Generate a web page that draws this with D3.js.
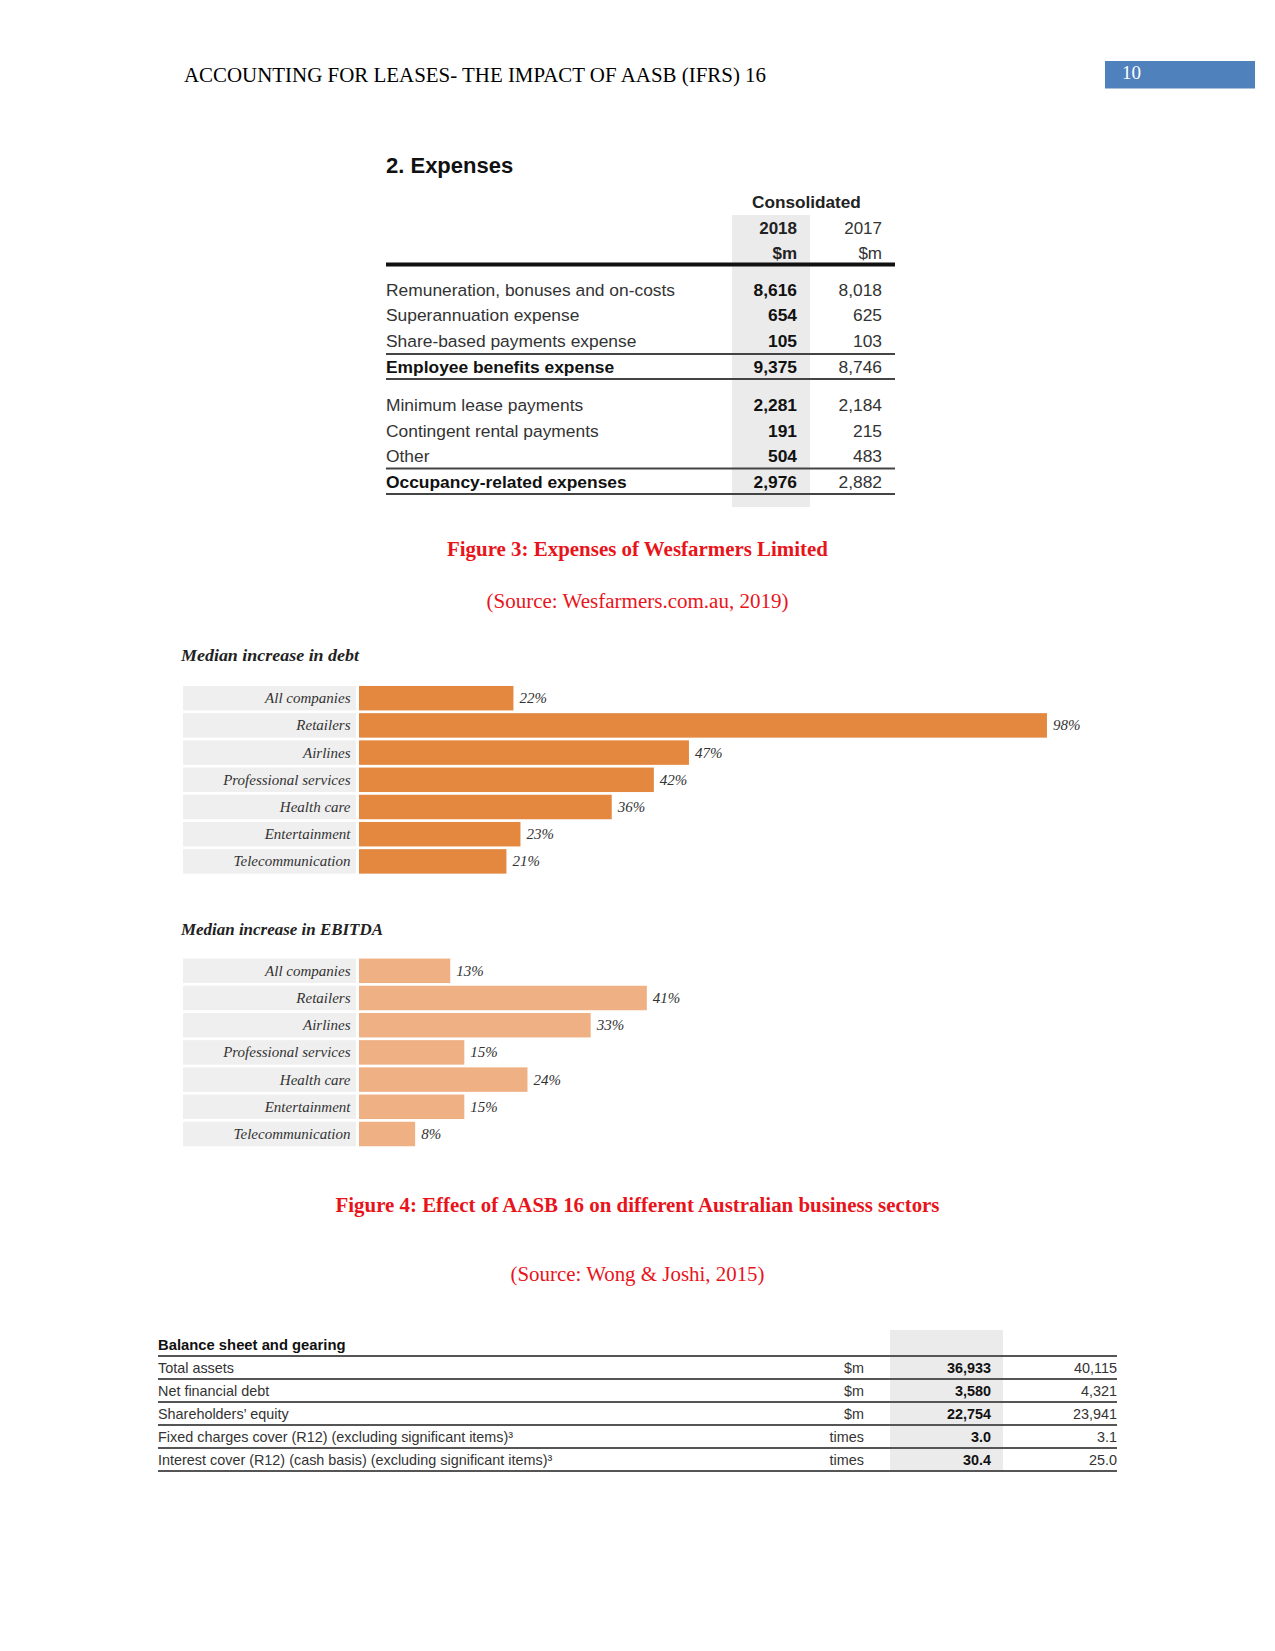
<!DOCTYPE html>
<html><head><meta charset="utf-8">
<script src="https://cdn.jsdelivr.net/npm/d3@7"></script>
<style>
html,body{margin:0;padding:0;background:#fff;}
svg{display:block;}
</style>
</head><body>
<script>
// ---------- DATA ----------
const headerTitle = "ACCOUNTING FOR LEASES- THE IMPACT OF AASB (IFRS) 16";
const pageNumber = "10";

const expensesTitle = "2. Expenses";
const expenseYears = ["2018", "2017"];
const employeeLabels = ["Remuneration, bonuses and on-costs", "Superannuation expense", "Share-based payments expense"];
const employee2018 = [8616, 654, 105];
const employee2017 = [8018, 625, 103];
const occupancyLabels = ["Minimum lease payments", "Contingent rental payments", "Other"];
const occupancy2018 = [2281, 191, 504];
const occupancy2017 = [2184, 215, 483];
const totalLabels = ["Employee benefits expense", "Occupancy-related expenses"];
const total2018 = [9375, 2976];
const total2017 = [8746, 2882];

const fig3Caption = "Figure 3: Expenses of Wesfarmers Limited";
const fig3Source = "(Source: Wesfarmers.com.au, 2019)";

const sectors = ["All companies", "Retailers", "Airlines", "Professional services", "Health care", "Entertainment", "Telecommunication"];
const debtIncrease = [22, 98, 47, 42, 36, 23, 21];
const ebitdaIncrease = [13, 41, 33, 15, 24, 15, 8];
const chartTitles = ["Median increase in debt", "Median increase in EBITDA"];

const fig4Caption = "Figure 4: Effect of AASB 16 on different Australian business sectors";
const fig4Source = "(Source: Wong & Joshi, 2015)";

const balanceTitle = "Balance sheet and gearing";
const balanceLabels = ["Total assets", "Net financial debt", "Shareholders\u2019 equity",
  "Fixed charges cover (R12) (excluding significant items)\u00B3",
  "Interest cover (R12) (cash basis) (excluding significant items)\u00B3"];
const balanceUnits = ["$m", "$m", "$m", "times", "times"];
const balance2018 = [36933, 3580, 22754, 3.0, 30.4];
const balance2017 = [40115, 4321, 23941, 3.1, 25.0];

// ---------- DRAW ----------
const W = 1275, H = 1651;
const svg = d3.select("body").append("svg").attr("width", W).attr("height", H);
const SANS = "'Liberation Sans', Arial, Helvetica, sans-serif";
const SERIF = "'Liberation Serif', 'Times New Roman', serif";
const fmtInt = d3.format(",");
const fmt1 = d3.format(".1f");

// Header
svg.append("text").attr("x", 184).attr("y", 81.5)
  .attr("font-family", SERIF).attr("font-size", 20).attr("fill", "#000")
  .attr("textLength", 582).attr("lengthAdjust", "spacingAndGlyphs")
  .text(headerTitle);
svg.append("rect").attr("x", 1105).attr("y", 61).attr("width", 150).attr("height", 27.5).attr("fill", "#4F81BD");
svg.append("text").attr("x", 1122).attr("y", 79)
  .attr("font-family", SERIF).attr("font-size", 19).attr("fill", "#fff").text(pageNumber);

// ---------- Expenses table ----------
const ex = svg.append("g");
const exLeft = 386, exRight = 895, col18 = 797, col17 = 882;
ex.append("rect").attr("x", 732).attr("y", 215).attr("width", 78).attr("height", 292).attr("fill", "#ebebeb");
ex.append("text").attr("x", exLeft).attr("y", 172.5).attr("font-family", SANS).attr("font-weight", "bold")
  .attr("font-size", 22).attr("fill", "#111").text(expensesTitle);
ex.append("text").attr("x", 752).attr("y", 208).attr("font-family", SANS).attr("font-weight", "bold")
  .attr("font-size", 17.2).attr("fill", "#222").text("Consolidated");
ex.append("text").attr("x", col18).attr("y", 233.5).attr("text-anchor", "end").attr("font-family", SANS)
  .attr("font-weight", "bold").attr("font-size", 17).attr("fill", "#222").text(expenseYears[0]);
ex.append("text").attr("x", col17).attr("y", 233.5).attr("text-anchor", "end").attr("font-family", SANS)
  .attr("font-size", 17).attr("fill", "#333").text(expenseYears[1]);
ex.append("text").attr("x", col18).attr("y", 259).attr("text-anchor", "end").attr("font-family", SANS)
  .attr("font-weight", "bold").attr("font-size", 17).attr("fill", "#222").text("$m");
ex.append("text").attr("x", col17).attr("y", 259).attr("text-anchor", "end").attr("font-family", SANS)
  .attr("font-size", 17).attr("fill", "#333").text("$m");
ex.append("rect").attr("x", exLeft).attr("y", 262.5).attr("width", exRight - exLeft).attr("height", 4).attr("fill", "#111");

function expenseBlock(labels, v18, v17, tLabel, t18, t17, yTop, lineTop, lineBottom) {
  const rows = labels.map((l, i) => ({label: l, a: v18[i], b: v17[i], bold: false}))
    .concat([{label: tLabel, a: t18, b: t17, bold: true}]);
  const y = d3.scalePoint().domain(d3.range(rows.length)).range([yTop, yTop + 3 * 25.6]);
  const g = ex.append("g");
  rows.forEach((r, i) => {
    const by = y(i) + 6.2;
    g.append("text").attr("x", exLeft).attr("y", by).attr("font-family", SANS)
      .attr("font-size", 17.4).attr("font-weight", r.bold ? "bold" : "normal").attr("fill", r.bold ? "#111" : "#333").text(r.label);
    g.append("text").attr("x", col18).attr("y", by).attr("text-anchor", "end").attr("font-family", SANS)
      .attr("font-size", 17.4).attr("font-weight", "bold").attr("fill", "#111").text(fmtInt(r.a));
    g.append("text").attr("x", col17).attr("y", by).attr("text-anchor", "end").attr("font-family", SANS)
      .attr("font-size", 17.4).attr("fill", "#333").text(fmtInt(r.b));
  });
  [lineTop, lineBottom].forEach(ly => g.append("rect").attr("x", exLeft).attr("y", ly - 1)
    .attr("width", exRight - exLeft).attr("height", 2).attr("fill", "#444"));
}
expenseBlock(employeeLabels, employee2018, employee2017, totalLabels[0], total2018[0], total2017[0], 289.5, 354, 379);
expenseBlock(occupancyLabels, occupancy2018, occupancy2017, totalLabels[1], total2018[1], total2017[1], 405, 468.5, 494);

// Captions
function caption(text, y, bold, len) {
  const t = svg.append("text").attr("x", 637.5).attr("y", y).attr("text-anchor", "middle")
    .attr("font-family", SERIF).attr("font-size", 20).attr("font-weight", bold ? "bold" : "normal")
    .attr("fill", "#E8141B").text(text);
  if (len) t.attr("textLength", len).attr("lengthAdjust", "spacingAndGlyphs");
}
caption(fig3Caption, 555.5, true, 381);
caption(fig3Source, 608, false, 302);

// ---------- Bar charts ----------
const x = d3.scaleLinear().domain([0, 100]).range([359, 1061]);
function barChart(values, title, titleY, bandTop, color, titleLen) {
  const g = svg.append("g");
  g.append("text").attr("x", 181).attr("y", titleY).attr("font-family", SERIF)
    .attr("font-style", "italic").attr("font-weight", "bold").attr("font-size", 17.5).attr("fill", "#222")
    .attr("textLength", titleLen).attr("lengthAdjust", "spacingAndGlyphs").text(title);
  const y = d3.scaleBand().domain(sectors).range([bandTop, bandTop + 7 * 27.2]).paddingInner(0.1).paddingOuter(0.05);
  const rows = g.selectAll("g.row").data(sectors.map((s, i) => ({s, v: values[i]}))).join("g").attr("class", "row");
  rows.append("rect").attr("x", 183).attr("y", d => y(d.s)).attr("width", 173).attr("height", y.bandwidth()).attr("fill", "#efefef");
  rows.append("rect").attr("x", x(0)).attr("y", d => y(d.s)).attr("width", d => x(d.v) - x(0)).attr("height", y.bandwidth()).attr("fill", color);
  rows.append("text").attr("x", 350.5).attr("y", d => y(d.s) + y.bandwidth() / 2 + 5).attr("text-anchor", "end")
    .attr("font-family", SERIF).attr("font-style", "italic").attr("font-size", 15).attr("fill", "#333").text(d => d.s);
  rows.append("text").attr("x", d => x(d.v) + 6).attr("y", d => y(d.s) + y.bandwidth() / 2 + 5)
    .attr("font-family", SERIF).attr("font-style", "italic").attr("font-size", 15).attr("fill", "#333").text(d => d.v + "%");
}
barChart(debtIncrease, chartTitles[0], 661, 684.6, "#E4873F", 178);
barChart(ebitdaIncrease, chartTitles[1], 935, 957.2, "#EFB083", 202);

caption(fig4Caption, 1211.5, true, 604);
caption(fig4Source, 1281, false, 254);

// ---------- Balance sheet table ----------
const bs = svg.append("g");
const bsLeft = 158, bsRight = 1117, unitX = 864, b18X = 991, b17X = 1117;
const BFS = 14.4;
bs.append("rect").attr("x", 890).attr("y", 1330).attr("width", 113).attr("height", 141).attr("fill", "#ebebeb");
bs.append("text").attr("x", bsLeft).attr("y", 1350).attr("font-family", SANS).attr("font-weight", "bold")
  .attr("font-size", 14.8).attr("fill", "#111").text(balanceTitle);
const by = d3.scaleBand().domain(d3.range(balanceLabels.length)).range([1356, 1471]);
bs.append("rect").attr("x", bsLeft).attr("y", 1355).attr("width", bsRight - bsLeft).attr("height", 2).attr("fill", "#555");
balanceLabels.forEach((l, i) => {
  const cy = by(i) + by.bandwidth() / 2 + 5;
  const fmt = balanceUnits[i] === "$m" ? fmtInt : fmt1;
  bs.append("text").attr("x", bsLeft).attr("y", cy).attr("font-family", SANS).attr("font-size", BFS).attr("fill", "#333").text(l);
  bs.append("text").attr("x", unitX).attr("y", cy).attr("text-anchor", "end").attr("font-family", SANS).attr("font-size", BFS).attr("fill", "#333").text(balanceUnits[i]);
  bs.append("text").attr("x", b18X).attr("y", cy).attr("text-anchor", "end").attr("font-family", SANS).attr("font-weight", "bold").attr("font-size", BFS).attr("fill", "#111").text(fmt(balance2018[i]));
  bs.append("text").attr("x", b17X).attr("y", cy).attr("text-anchor", "end").attr("font-family", SANS).attr("font-size", BFS).attr("fill", "#333").text(fmt(balance2017[i]));
  bs.append("rect").attr("x", bsLeft).attr("y", by(i) + by.bandwidth() - 1).attr("width", bsRight - bsLeft).attr("height", 2).attr("fill", "#555");
});
</script>
</body></html>
